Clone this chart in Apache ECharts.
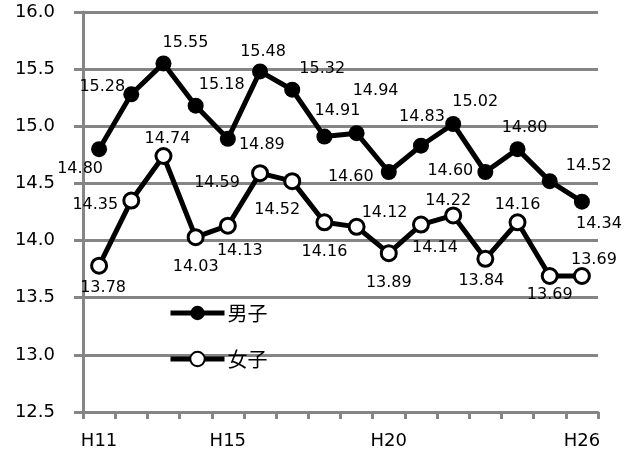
<!DOCTYPE html>
<html>
<head>
<meta charset="utf-8">
<script src="https://cdn.jsdelivr.net/npm/echarts@6/dist/echarts.min.js"></script>
<style>
html,body{margin:0;padding:0;background:#fff;}
#c{width:634px;height:455px;}
</style>
</head>
<body>
<div id="c"></div>
<script>
var categories = ['H11','H12','H13','H14','H15','H16','H17','H18','H19','H20','H21','H22','H23','H24','H25','H26'];
var maleValues = [14.80,15.28,15.55,15.18,14.89,15.48,15.32,14.91,14.94,14.60,14.83,15.02,14.60,14.80,14.52,14.34];
var femaleValues = [13.78,14.35,14.74,14.03,14.13,14.59,14.52,14.16,14.12,13.89,14.14,14.22,13.84,14.16,13.69,13.69];
var shownTickLabels = ['H11','H15','H20','H26'];

// label offsets (label centre relative to point), styling only
var maleOffsets = [[-19,20],[-29,-7],[22,-21],[26,-21],[34,6],[3,-20],[30,-21],[13,-26],[19,-42],[-38,5],[1,-29],[22,-22],[-35,-1],[7,-21],[39,-15],[17,22]];
var femaleOffsets = [[4,22],[-36,4],[4,-17],[0,30],[12,25],[-43,10],[-15,29],[0,30],[28,-14],[0,30],[14,23],[-5,-15],[-4,22],[0,-17],[0,19],[12,-16]];

function build(values, offsets){
  return values.map(function(v,i){
    return {value:v, label:{offset:offsets[i]}};
  });
}

var chart = echarts.init(document.getElementById('c'));
var labelBase = {
  show:true, position:'inside', align:'center', verticalAlign:'middle',
  fontFamily:'DejaVu Sans', fontSize:16, color:'#000',
  formatter:function(p){return p.value.toFixed(2);}
};
chart.setOption({
  animation:false,
  backgroundColor:'#fff',
  grid:{left:83, right:36, top:12, bottom:43},
  legend:{
    orient:'vertical', left:168, top:303, padding:0,
    itemWidth:54, itemHeight:18, itemGap:26,
    lineStyle:{width:5, color:'#000'},
    textStyle:{fontFamily:'Noto Sans CJK JP', fontSize:20, color:'#000', padding:[0,0,0,-2]},
    data:['男子','女子']
  },
  xAxis:{
    type:'category', data:categories, boundaryGap:true,
    axisLine:{lineStyle:{color:'#858585', width:3}},
    axisTick:{show:true, length:7, lineStyle:{color:'#858585', width:3}, interval:0},
    axisLabel:{
      interval:0, margin:20, fontFamily:'DejaVu Sans', fontSize:18, color:'#000',
      formatter:function(v){return shownTickLabels.indexOf(v)>=0 ? v : '';}
    },
    splitLine:{show:false}
  },
  yAxis:{
    type:'value', min:12.5, max:16.0, interval:0.5,
    axisLine:{show:true, lineStyle:{color:'#858585', width:3}},
    axisTick:{show:true, length:9, lineStyle:{color:'#858585', width:3}},
    axisLabel:{margin:28, fontFamily:'DejaVu Sans', fontSize:18, color:'#000',
      formatter:function(v){return v.toFixed(1);}},
    splitLine:{show:true, lineStyle:{color:'#858585', width:3}}
  },
  series:[
    {
      name:'男子', type:'line', data:build(maleValues, maleOffsets),
      symbol:'circle', symbolSize:16,
      lineStyle:{color:'#000', width:5},
      itemStyle:{color:'#000', borderColor:'#000', borderWidth:0},
      label:labelBase, z:3
    },
    {
      name:'女子', type:'line', data:build(femaleValues, femaleOffsets),
      symbol:'circle', symbolSize:15,
      lineStyle:{color:'#000', width:5},
      itemStyle:{color:'#fff', borderColor:'#000', borderWidth:3},
      label:labelBase, z:3
    }
  ]
});
</script>
</body>
</html>
